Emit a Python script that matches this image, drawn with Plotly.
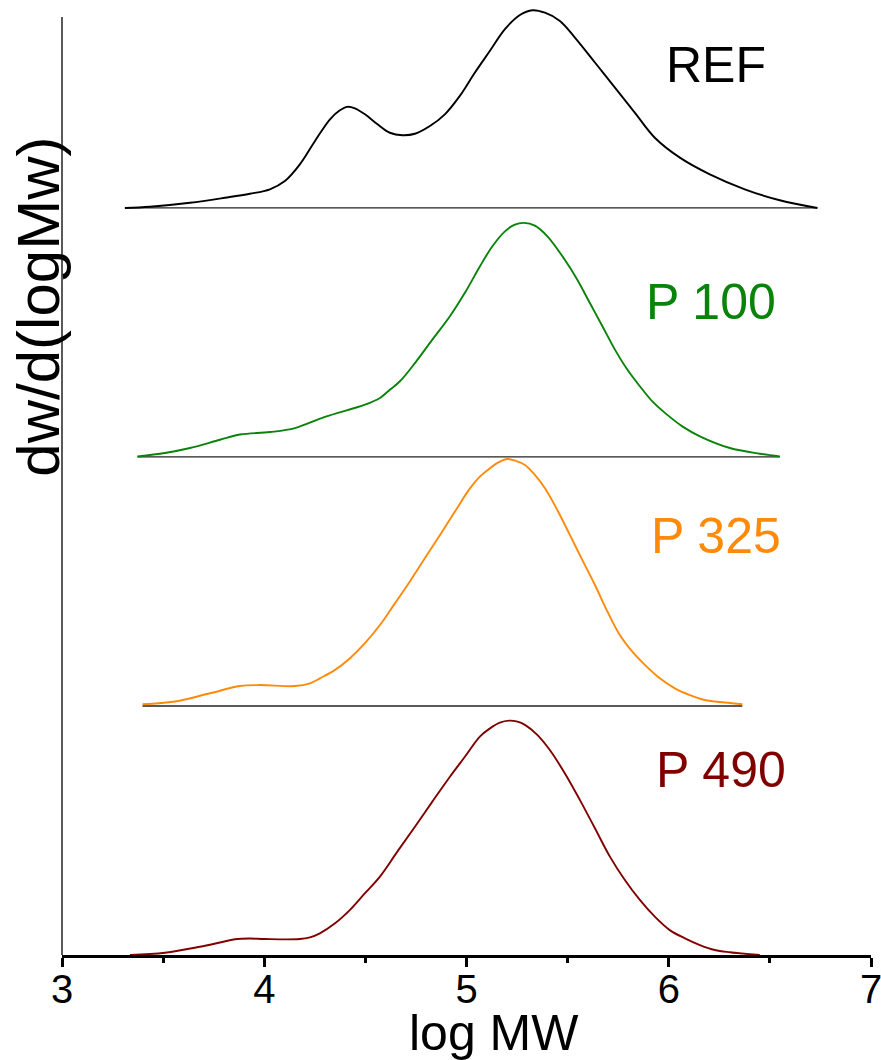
import plotly.graph_objects as go

# ---- data: log MW vs normalised dw/d(logMw) for each sample ----
ref_x = [3.311, 3.435, 3.633, 3.806, 3.929, 4.028, 4.102, 4.176, 4.251, 4.325, 4.374, 4.411,
         4.448, 4.498, 4.560, 4.621, 4.683, 4.745, 4.819, 4.893, 4.967, 5.041, 5.116, 5.190,
         5.264, 5.326, 5.388, 5.462, 5.536, 5.635, 5.734, 5.832, 5.931, 6.055, 6.203, 6.376,
         6.549, 6.735]
ref_y = [0.000, 0.005, 0.021, 0.041, 0.057, 0.075, 0.108, 0.175, 0.269, 0.356, 0.392, 0.406,
         0.400, 0.376, 0.336, 0.302, 0.292, 0.298, 0.329, 0.376, 0.450, 0.543, 0.631, 0.718,
         0.775, 0.794, 0.784, 0.751, 0.684, 0.584, 0.483, 0.383, 0.282, 0.202, 0.135, 0.075,
         0.031, 0.000]

p100_x = [3.373, 3.509, 3.633, 3.781, 3.880, 4.028, 4.152, 4.300, 4.498, 4.572, 4.621, 4.671,
          4.745, 4.831, 4.918, 4.992, 5.066, 5.128, 5.190, 5.239, 5.284, 5.338, 5.400, 5.486,
          5.548, 5.610, 5.672, 5.734, 5.795, 5.857, 5.919, 5.981, 6.067, 6.154, 6.302, 6.450,
          6.549]
p100_y = [0.002, 0.016, 0.036, 0.069, 0.090, 0.100, 0.116, 0.161, 0.210, 0.237, 0.270, 0.304,
          0.377, 0.471, 0.565, 0.659, 0.765, 0.846, 0.906, 0.933, 0.940, 0.929, 0.886, 0.792,
          0.712, 0.618, 0.525, 0.431, 0.351, 0.284, 0.223, 0.177, 0.123, 0.083, 0.036, 0.013,
          0.002]

p325_x = [3.398, 3.559, 3.732, 3.880, 3.979, 4.152, 4.226, 4.275, 4.350, 4.424, 4.498, 4.572,
          4.646, 4.720, 4.794, 4.869, 4.943, 5.017, 5.066, 5.116, 5.160, 5.202, 5.244, 5.289,
          5.338, 5.388, 5.449, 5.511, 5.573, 5.635, 5.697, 5.758, 5.820, 5.882, 5.956, 6.030,
          6.104, 6.178, 6.277, 6.364]
p325_y = [0.007, 0.018, 0.051, 0.080, 0.084, 0.080, 0.091, 0.111, 0.145, 0.192, 0.252, 0.325,
          0.412, 0.500, 0.593, 0.687, 0.781, 0.874, 0.921, 0.955, 0.979, 0.992, 0.984, 0.968,
          0.928, 0.874, 0.787, 0.687, 0.586, 0.486, 0.379, 0.285, 0.218, 0.165, 0.111, 0.071,
          0.044, 0.024, 0.014, 0.007]

p490_x = [3.336, 3.509, 3.682, 3.781, 3.855, 3.929, 4.003, 4.176, 4.226, 4.275, 4.350, 4.424,
          4.498, 4.572, 4.658, 4.745, 4.831, 4.918, 4.992, 5.066, 5.116, 5.165, 5.210, 5.252,
          5.289, 5.350, 5.412, 5.486, 5.561, 5.635, 5.709, 5.783, 5.857, 5.931, 6.005, 6.080,
          6.154, 6.228, 6.302, 6.450]
p490_y = [0.000, 0.009, 0.033, 0.050, 0.063, 0.066, 0.064, 0.064, 0.071, 0.087, 0.127, 0.181,
          0.248, 0.315, 0.415, 0.515, 0.616, 0.716, 0.796, 0.877, 0.910, 0.933, 0.941, 0.937,
          0.924, 0.884, 0.823, 0.730, 0.622, 0.509, 0.395, 0.301, 0.221, 0.154, 0.100, 0.067,
          0.040, 0.020, 0.011, 0.000]

names = ["REF", "P 100", "P 325", "P 490"]
tick_vals = [3, 4, 5, 6, 7]
tick_text = ["3", "4", "5", "6", "7"]
minor_vals = [3.5, 4.5, 5.5, 6.5]

# ---- layout / style ----
series = [
    (ref_x, ref_y, 3.0, "#000000", (6.233, 3.574)),
    (p100_x, p100_y, 2.0, "#0a830a", (6.208, 2.624)),
    (p325_x, p325_y, 1.0, "#ff8a0a", (6.233, 1.683)),
    (p490_x, p490_y, 0.0, "#800000", (6.258, 0.743)),
]

FONT = "Liberation Sans, Arial, sans-serif"
fig = go.Figure()
annotations = []
for (xs, ys, off, col, lab), name in zip(series, names):
    if off > 0:
        fig.add_trace(go.Scatter(x=[xs[0], xs[-1]], y=[off, off], mode="lines",
                                 line=dict(color="#222222", width=1.3),
                                 showlegend=False, hoverinfo="skip"))
    fig.add_trace(go.Scatter(x=xs, y=[off + v for v in ys], mode="lines", name=name,
                             line=dict(color=col, width=1.9, shape="spline", smoothing=1.0),
                             showlegend=False))
    annotations.append(dict(x=lab[0], y=lab[1], xref="x", yref="y", text=name,
                            showarrow=False, xanchor="center", yanchor="middle",
                            font=dict(family=FONT, size=50, color=col)))

annotations.append(dict(x=0.534, y=-0.051, xref="paper", yref="paper", text="log MW",
                        showarrow=False, xanchor="center", yanchor="top",
                        font=dict(family=FONT, size=50, color="#000")))
annotations.append(dict(x=-0.029, y=0.682, xref="paper", yref="paper", text="dw/d(logMw)",
                        showarrow=False, xanchor="center", yanchor="middle", textangle=-90,
                        font=dict(family=FONT, size=60, color="#000")))

Y_TOP = 3.815
fig.update_layout(
    width=881, height=1060,
    margin=dict(l=62, r=10, t=5, b=105, autoexpand=False),
    paper_bgcolor="white", plot_bgcolor="white",
    showlegend=False,
    annotations=annotations,
    shapes=[dict(type="line", xref="paper", yref="y", x0=0, x1=0, y0=0, y1=3.767,
                 line=dict(color="#000", width=1.3))],
    xaxis=dict(range=[3, 7], tickvals=tick_vals, ticktext=tick_text, automargin=False,
               ticks="outside", ticklen=9, tickwidth=3, tickcolor="#000",
               ticklabeloverflow="allow", ticklabelstandoff=-12,
               minor=dict(tickvals=minor_vals, ticks="outside", ticklen=5,
                          tickwidth=3, tickcolor="#000", showgrid=False),
               showline=True, linewidth=3, linecolor="#000", showgrid=False, zeroline=False,
               tickfont=dict(family=FONT, size=40, color="#000")),
    yaxis=dict(range=[0, Y_TOP], showticklabels=False, ticks="", showline=False,
               showgrid=False, zeroline=False, automargin=False),
)

fig.write_html("out.html")
